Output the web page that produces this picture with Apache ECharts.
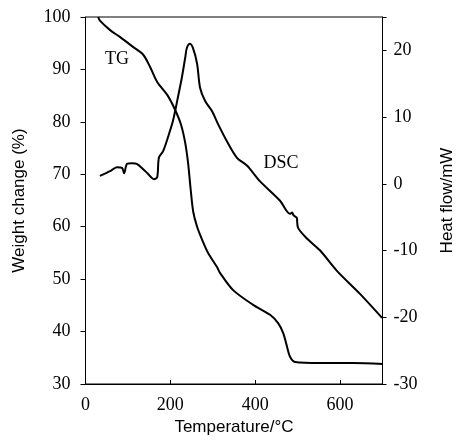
<!DOCTYPE html>
<html>
<head>
<meta charset="utf-8">
<script src="https://cdn.jsdelivr.net/npm/echarts@6/dist/echarts.min.js"></script>
<style>
  html, body { margin: 0; padding: 0; background: #fff; }
  #chart { width: 457px; height: 440px; }
</style>
</head>
<body>
<div id="chart"></div>
<script>
// TG curve: temperature (°C) vs weight change (%)
const tgTemp = [30, 34, 58, 81, 112, 136, 152, 169, 193, 210, 225, 235, 242, 248, 254, 263, 275, 289, 310, 317, 348, 395, 435, 454, 466, 475, 482, 494, 553, 630, 701];
const tgWeight = [100, 99.3, 97.5, 96.2, 94.3, 92.8, 90.5, 87.6, 85.1, 82.5, 79.5, 76, 72, 67, 62.8, 60, 57.5, 55, 52.3, 51.2, 47.9, 45.1, 43.2, 41.6, 39.7, 37.1, 35.2, 34.2, 34.0, 34.0, 33.8];

// DSC curve: temperature (°C) vs heat flow (mW)
const dscTemp = [34, 58, 74, 86, 91, 98, 110, 121, 136, 147, 161, 169, 173, 183, 194, 206, 216, 227, 235, 239, 246, 253, 263, 270, 282, 298, 312, 333, 357, 381, 411, 458, 482, 487, 490, 494, 498, 501, 522, 553, 592, 647, 699];
const dscHeat = [1.2, 1.9, 2.5, 2.4, 1.6, 3.0, 3.1, 3.0, 2.2, 1.5, 0.7, 1.0, 3.9, 4.9, 6.9, 9.4, 12.4, 15.9, 18.9, 20.4, 21.0, 20.4, 18.0, 14.4, 12.4, 10.9, 9.0, 6.4, 3.9, 2.7, 0.4, -2.5, -4.5, -4.3, -4.7, -4.9, -5.1, -6.6, -8.2, -10.0, -13.0, -16.5, -20.1];

const xTicks = [0, 200, 400, 600];
const leftTicks = [30, 40, 50, 60, 70, 80, 90, 100];
const rightTicks = [-30, -20, -10, 0, 10, 20];

const serif = "'Liberation Serif', 'DejaVu Serif', serif";
const sans = "'Liberation Sans', Arial, sans-serif";

const chart = echarts.init(document.getElementById("chart"));

chart.setOption({
  animation: false,
  backgroundColor: "#fff",
  grid: {
    left: 85.5, right: 74.5, top: 17, bottom: 56,
    outerBoundsMode: "none", containLabel: false,
    show: true, borderColor: "#000", borderWidth: 1,
  },
  xAxis: {
    type: "value",
    min: 0,
    max: 700,
    interval: 200,
    name: "Temperature/°C",
    nameLocation: "middle",
    nameGap: 33,
    nameTextStyle: { fontFamily: sans, fontSize: 17, color: "#000" },
    axisLine: { onZero: false, lineStyle: { color: "#000", width: 1 } },
    axisTick: { inside: true, length: 4, lineStyle: { color: "#000" } },
    axisLabel: {
      fontFamily: serif, fontSize: 18, color: "#000", margin: 12,
      formatter: (v) => (xTicks.includes(v) ? String(v) : ""),
    },
    splitLine: { show: false },
  },
  yAxis: [
    {
      type: "value",
      min: 30,
      max: 100,
      interval: 10,
      name: "Weight change (%)",
      nameLocation: "middle",
      nameGap: 58,
      nameTextStyle: { fontFamily: sans, fontSize: 17, color: "#000" },
      axisLine: { show: true, onZero: false, lineStyle: { color: "#000", width: 1 } },
      axisTick: { show: true, length: 5, lineStyle: { color: "#000" } },
      axisLabel: {
        fontFamily: serif, fontSize: 18, color: "#000", margin: 15,
        formatter: (v) => (leftTicks.includes(v) ? String(v) : ""),
      },
      splitLine: { show: false },
    },
    {
      type: "value",
      min: -30,
      max: 25,
      interval: 10,
      position: "right",
      name: "Heat flow/mW",
      nameLocation: "middle",
      nameGap: 56,
      nameRotate: 90,
      nameTextStyle: { fontFamily: sans, fontSize: 17, color: "#000" },
      axisLine: { show: true, onZero: false, lineStyle: { color: "#000", width: 1 } },
      axisTick: { show: true, length: 4, lineStyle: { color: "#000" } },
      axisLabel: {
        fontFamily: serif, fontSize: 18, color: "#000", margin: 11,
        formatter: (v) => (rightTicks.includes(v) ? String(v) : ""),
      },
      splitLine: { show: false },
    },
  ],
  series: [
    {
      name: "TG",
      type: "line",
      yAxisIndex: 0,
      showSymbol: false,
      smooth: 0.3,
      lineStyle: { color: "#000", width: 2 },
      data: tgTemp.map((t, i) => [t, tgWeight[i]]),
      markPoint: {
        symbol: "circle",
        symbolSize: 0,
        label: { show: true, formatter: "TG", fontFamily: serif, fontSize: 18, color: "#000" },
        data: [{ coord: [74, 92] }],
      },
    },
    {
      name: "DSC",
      type: "line",
      yAxisIndex: 1,
      showSymbol: false,
      smooth: 0.3,
      lineStyle: { color: "#000", width: 2 },
      data: dscTemp.map((t, i) => [t, dscHeat[i]]),
      markPoint: {
        symbol: "circle",
        symbolSize: 0,
        label: { show: true, formatter: "DSC", fontFamily: serif, fontSize: 18, color: "#000" },
        data: [{ coord: [461, 3.1] }],
      },
    },
  ],
});
</script>
</body>
</html>
